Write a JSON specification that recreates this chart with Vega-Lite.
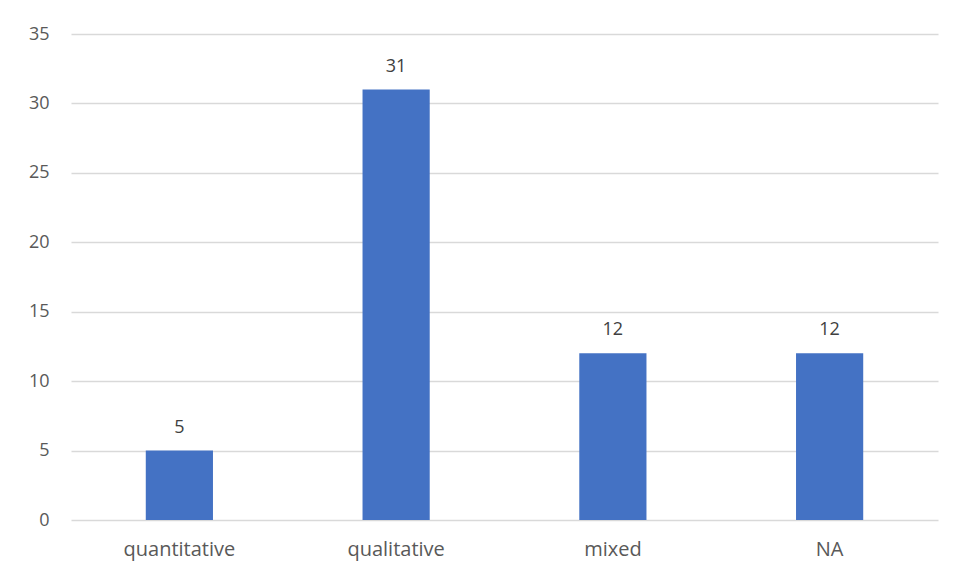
{
  "$schema": "https://vega.github.io/schema/vega-lite/v6.json",
  "width": 867,
  "height": 486,
  "autosize": {"type": "none"},
  "padding": {"left": 71, "top": 34, "right": 17, "bottom": 58},
  "background": "#ffffff",
  "data": {
    "values": [
      {"category": "quantitative", "count": 5},
      {"category": "qualitative", "count": 31},
      {"category": "mixed", "count": 12},
      {"category": "NA", "count": 12}
    ]
  },
  "encoding": {
    "x": {
      "field": "category",
      "type": "nominal",
      "sort": null,
      "title": null,
      "scale": {"paddingInner": 0, "paddingOuter": 0},
      "axis": {
        "labelAngle": 0,
        "domain": false,
        "ticks": false,
        "labelPadding": 19,
        "labelBaseline": "top",
        "labelFont": "Open Sans",
        "labelFontSize": 20,
        "labelColor": "#595959"
      }
    },
    "y": {
      "field": "count",
      "type": "quantitative",
      "title": null,
      "scale": {"domain": [0, 35], "nice": false},
      "axis": {
        "values": [0, 5, 10, 15, 20, 25, 30, 35],
        "domain": false,
        "ticks": false,
        "labelPadding": 22,
        "labelFont": "Open Sans",
        "labelFontSize": 18,
        "labelColor": "#595959",
        "gridColor": "#d9d9d9",
        "gridWidth": 1.5
      }
    }
  },
  "layer": [
    {
      "mark": {"type": "bar", "color": "#4472c4", "width": {"band": 0.31}}
    },
    {
      "mark": {
        "type": "text",
        "dy": -18,
        "baseline": "alphabetic",
        "align": "center",
        "font": "Open Sans",
        "fontSize": 18,
        "color": "#404040"
      },
      "encoding": {"text": {"field": "count", "type": "quantitative"}}
    }
  ],
  "config": {"view": {"stroke": null}}
}
